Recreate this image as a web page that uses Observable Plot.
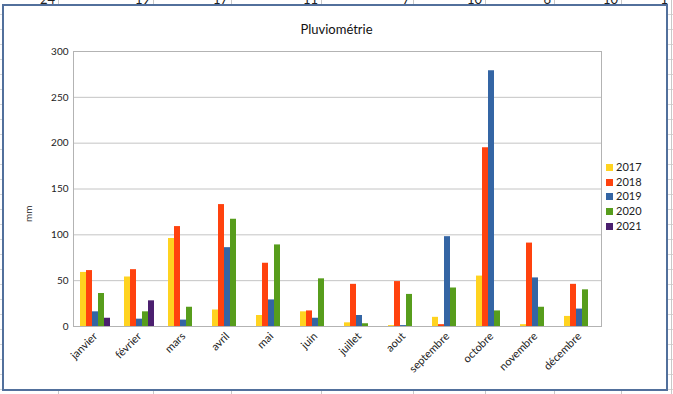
<!DOCTYPE html>
<html><head><meta charset="utf-8">
<script src="https://cdn.jsdelivr.net/npm/d3@7"></script>
<script src="https://cdn.jsdelivr.net/npm/@observablehq/plot@0.6"></script>
<style>
body{margin:0;background:#fff;}
#page{position:relative;width:673px;height:394px;overflow:hidden;font-family:Lato,"Open Sans",sans-serif;
  background:repeating-linear-gradient(to bottom, #fff 0 14px, #d6d6d6 14px 15px);}
.vline{position:absolute;top:0;width:1px;height:394px;background:#c8c8c8;}
.num{position:absolute;top:-7px;font-size:13px;line-height:13px;color:#222;text-align:right;width:30px;}
#box{position:absolute;left:2px;top:4px;width:662px;height:383px;border:2px solid #52709c;background:#fff;}
#title{position:absolute;left:0;width:673px;top:21px;text-align:center;font-size:13px;color:#111;}
#ylab{position:absolute;left:20px;top:208px;font-size:10px;color:#222;transform:rotate(-90deg);transform-origin:center;width:16px;text-align:center;}
#chart{position:absolute;left:0;top:0;}
#legend{position:absolute;left:606px;top:160px;font-size:11px;color:#222;}
#legend .row{height:14.7px;line-height:14.7px;white-space:nowrap;}
#legend .sw{display:inline-block;width:7px;height:7px;margin-right:3px;vertical-align:0px;}
</style></head><body>
<div id="page">
  <div id="sheet"></div>
  <div id="box"></div>
  <div id="title">Pluviométrie</div>
  <div id="ylab">mm</div>
  <div id="chart"></div>
  <div id="legend"></div>
</div>
<script>
// ---- data ----
const months = ["janvier","février","mars","avril","mai","juin","juillet","aout","septembre","octobre","novembre","décembre"];
const years = ["2017","2018","2019","2020","2021"];
const v2017 = [59, 54, 96, 18, 12, 16, 4, 1, 10, 55, 2, 11];
const v2018 = [61, 62, 109, 133, 69, 17, 46, 49, 2, 195, 91, 46];
const v2019 = [16, 8, 7, 86, 29, 9, 12, 1, 98, 279, 53, 19];
const v2020 = [36, 16, 21, 117, 89, 52, 3, 35, 42, 17, 21, 40];
const v2021 = [9, 28, null, null, null, null, null, null, null, null, null, null];
const yTicks = [0, 50, 100, 150, 200, 250, 300];
const sheetNumbers = ["24","19","17","11","7","10","6","10","1"];

// ---- styling / layout ----
const colors = ["#ffd320", "#ff420e", "#3465a4", "#579d1c", "#4b1f6f"];
const sheetCols = [58, 153, 231, 321, 413, 485, 554, 621, 671];

const series = [v2017, v2018, v2019, v2020, v2021];
const table = [];
months.forEach((m, i) => {
  series.forEach((s, j) => {
    if (s[i] != null) table.push({month: m, year: years[j], value: s[i]});
  });
});

// spreadsheet backdrop
const sheet = document.getElementById("sheet");
sheetCols.forEach((x, i) => {
  const l = document.createElement("div");
  l.className = "vline"; l.style.left = x + "px";
  sheet.appendChild(l);
  const n = document.createElement("div");
  n.className = "num"; n.style.left = (x - 33) + "px";
  n.textContent = sheetNumbers[i];
  sheet.appendChild(n);
});

const chart = Plot.plot({
  width: 610,
  height: 386,
  marginLeft: 70,
  marginRight: 6,
  marginTop: 51,
  marginBottom: 60,
  style: {fontFamily: "Lato, 'Open Sans', sans-serif", fontSize: "10px", background: "transparent", overflow: "visible", color: "#222"},
  fx: {domain: months, padding: 0, label: null},
  x: {domain: years, paddingInner: 0, paddingOuter: 0.74, axis: null},
  y: {domain: [0, 300], ticks: yTicks, label: null, tickSize: 0, tickPadding: 5},
  color: {domain: years, range: colors},
  marks: [
    Plot.ruleY(yTicks, {stroke: "#c4c4c4"}),
    Plot.frame({facet: "super", stroke: "#b3b3b3"}),
    Plot.barY(table, {fx: "month", x: "year", y: "value", fill: "year"}),
    Plot.axisFx({anchor: "bottom", tickRotate: -45, tickSize: 0, tickPadding: 8, fontSize: 11, label: null})
  ]
});
document.getElementById("chart").appendChild(chart);

// legend
const legend = document.getElementById("legend");
years.forEach((y, i) => {
  const r = document.createElement("div");
  r.className = "row";
  r.innerHTML = `<span class="sw" style="background:${colors[i]}"></span>${y}`;
  legend.appendChild(r);
});
</script>
</body></html>
